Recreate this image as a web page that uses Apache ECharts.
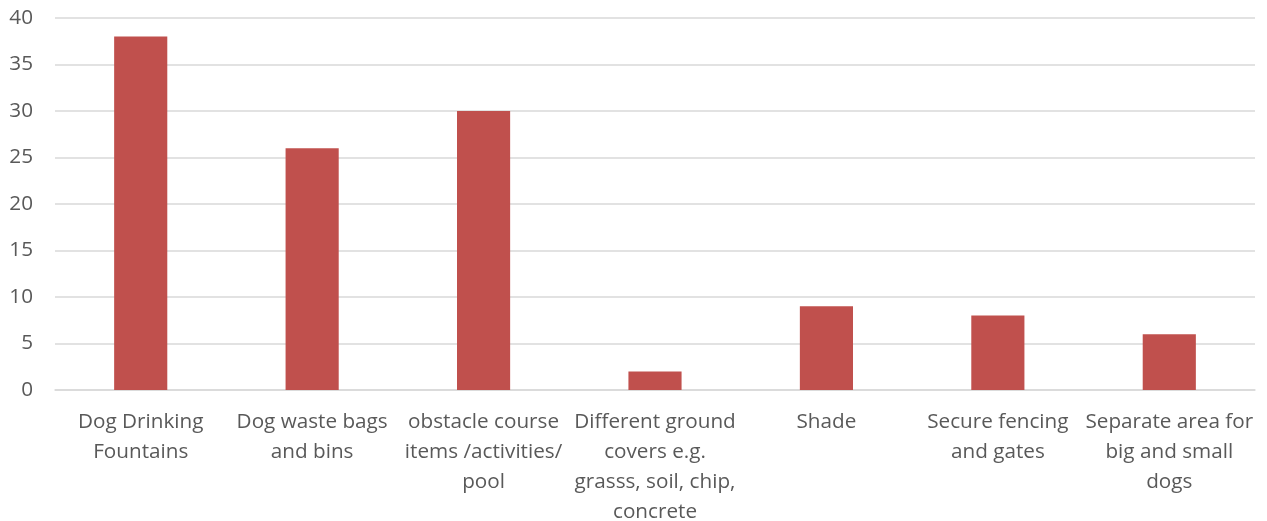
<!DOCTYPE html>
<html><head><meta charset="utf-8">
<script src="https://cdn.jsdelivr.net/npm/echarts@6/dist/echarts.min.js"></script>
<style>html,body{margin:0;padding:0;background:#fff}#c{width:1267px;height:521px}</style>
</head><body><div id="c"></div>
<script>
const categories = [
  "Dog Drinking\nFountains",
  "Dog waste bags\nand bins",
  "obstacle course\nitems /activities/\npool",
  "Different ground\ncovers e.g.\ngrasss, soil, chip,\nconcrete",
  "Shade",
  "Secure fencing\nand gates",
  "Separate area for\nbig and small\ndogs"
];
const values = [38, 26, 30, 2, 9, 8, 6];
const yTicks = { min: 0, max: 40, interval: 5 };

const chart = echarts.init(document.getElementById('c'), null, {renderer: 'canvas'});
chart.setOption({
  animation: false,
  grid: { left: 55, right: 12, top: 18, bottom: 131, containLabel: false, outerBoundsMode: 'none' },
  xAxis: {
    type: 'category', data: categories,
    axisLine: { show: true, lineStyle: { color: '#d9d9d9', width: 1.5 } },
    axisTick: { show: false },
    axisLabel: { interval: 0, color: '#595959', fontFamily: 'Open Sans', fontSize: 20.7, lineHeight: 30, margin: 17 }
  },
  yAxis: {
    type: 'value', min: yTicks.min, max: yTicks.max, interval: yTicks.interval,
    axisLine: { show: false }, axisTick: { show: false },
    splitLine: { lineStyle: { color: '#d9d9d9', width: 1.5 } },
    axisLabel: { color: '#595959', fontFamily: 'Open Sans', fontSize: 20.7, margin: 22 }
  },
  series: [{
    type: 'bar', data: values, barWidth: '31%',
    itemStyle: { color: '#C0504D' }
  }]
});
</script></body></html>
